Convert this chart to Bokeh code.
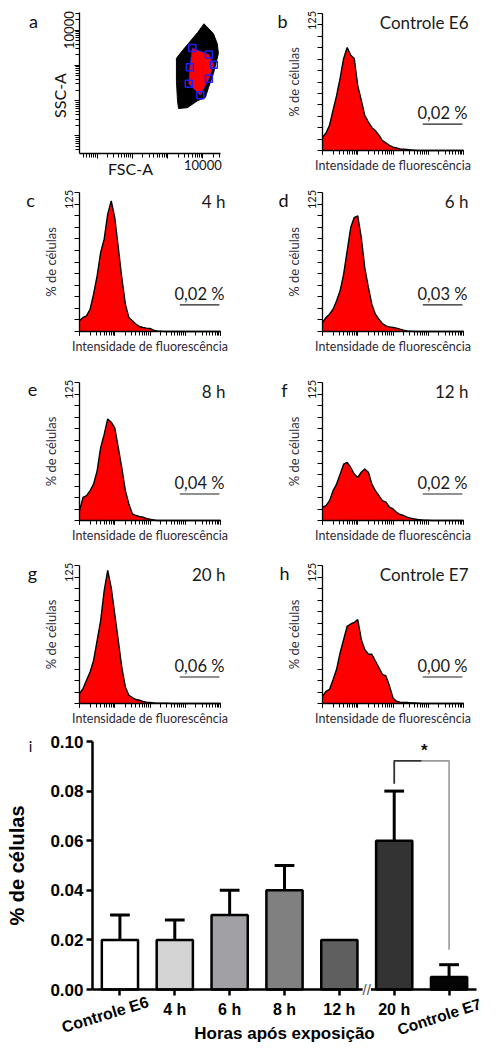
import math
from bokeh.plotting import figure
from bokeh.layouts import column, row
from bokeh.models import (Range1d, FixedTicker, LogTicker, Label,
                          CustomJSTickFormatter, NumeralTickFormatter)
from bokeh.embed import file_html
from bokeh.resources import INLINE

# ---------------- data ----------------
# panel a: FSC-A x SSC-A dot plot (outline of the event cloud and of the gate)
cloud_fsc = [10715, 19953, 25704, 27542, 19953, 14454, 11749, 7079, 3631, 2042,
             1905, 1778, 1778, 2630, 3890, 7079]
cloud_ssc = [15136, 7943, 4074, 2188, 589, 234, 123, 100, 63, 60,
             100, 372, 1585, 2630, 4169, 8511]
gate_fsc = [5012, 14791, 20417, 14791, 8511, 3981, 4266]
gate_ssc = [3090, 2042, 1047, 417, 141, 302, 891]

# panels b-h: fluorescence histograms (10 bins per decade)
hist_x = [1, 1.26, 1.58, 2.0, 2.51, 3.16, 3.98, 5.01, 6.31, 7.94,
          10, 12.6, 15.8, 20.0, 25.1, 31.6, 39.8, 50.1, 63.1, 79.4,
          100, 126, 158, 200, 251, 316, 398, 501, 631, 794,
          1000, 1259, 1585, 1995, 2512, 3162, 3981, 5012, 6310, 7943, 10000]
hist_b = [12, 16, 23, 37, 50, 66, 84, 94, 87, 84, 59, 46, 32, 26, 21, 18, 14, 9, 7,
          4.6, 3, 2.4, 1.5, 1.2, 0.9, 0.6, 0.3]
hist_c = [9.6, 12.6, 14, 20, 33.6, 50, 71, 83, 105.5, 117.5, 102.5, 75.5, 48.6, 24.6,
          12.6, 9.6, 6.6, 4.5, 3.6, 3, 2.7, 1.2, 0.6, 0.3]
hist_d = [8, 12.6, 15.6, 20, 27.6, 36.6, 51.6, 72.5, 93.5, 102.5, 104, 84.5, 57.5,
          39.6, 24.6, 15.6, 11, 7.2, 5, 4.2, 3.6, 3, 2.1, 1.2, 0.6, 0.3]
hist_e = [9, 21, 22.6, 27, 33, 45, 66, 78, 92, 89, 84, 66, 48, 27, 15, 6, 4.5, 3.6,
          3, 1.8, 1.2, 0.6]
hist_f = [12, 13.5, 18, 27, 33, 42, 51, 52.7, 48, 42, 39, 43.7, 46.7, 43.7, 33, 27,
          22.6, 18, 16.6, 12, 10.5, 7.5, 5.4, 4.5, 3, 2.1, 1.5, 0.9, 0.6, 0.3, 0.3]
hist_g = [9, 13.5, 21, 28.6, 39, 57, 75, 102, 120.5, 105, 81, 57, 33, 15, 7.5, 5.4,
          3.6, 3, 1.8, 1.2, 0.9, 0.6, 0.3, 0.3, 0.3, 0.3]
hist_h = [6.7, 11, 12.7, 21.8, 31, 46, 58, 70, 72, 73.4, 76, 58, 49, 44.6, 44.6, 38.5,
          32.5, 26.4, 25, 15.8, 5, 2, 1.2, 0.9, 0.9, 0.6, 0.6, 0.3]
panel_letters = ["b", "c", "d", "e", "f", "g", "h"]
panel_titles = ["Controle E6", "4 h", "6 h", "8 h", "12 h", "20 h", "Controle E7"]
panel_pcts = ["0,02 %", "0,02 %", "0,03 %", "0,04 %", "0,02 %", "0,06 %", "0,00 %"]
marker_lo, marker_hi, marker_level = 700, 9300, 24
hist_yticks = [125 * i / 12 for i in range(13)]

# panel i: bar chart
categories = ["Controle E6", "4 h", "6 h", "8 h", "12 h", "20 h", "Controle E7"]
pct_cells = [0.02, 0.02, 0.03, 0.04, 0.02, 0.06, 0.005]
sem = [0.01, 0.008, 0.01, 0.01, 0.0, 0.02, 0.005]
y_ticks = [0.0, 0.02, 0.04, 0.06, 0.08, 0.10]
bar_colors = ["#ffffff", "#d4d4d4", "#a1a1a5", "#808080", "#5f5f5f", "#333333", "#050505"]

FONT = "Lato"
BFONT = "Liberation Sans"


def lab(p, x, y, text, size, font=FONT, align="center", angle=0, bold=False, color="#111111", **kw):
    p.add_layout(Label(x=x, y=y, text=text, text_font=font, text_font_size=f"{size}px",
                       text_align=align, text_baseline="middle", angle=angle,
                       angle_units="deg", text_color=color,
                       text_font_style="bold" if bold else "normal", **kw))


def pad(v):
    return v + [0] * (len(hist_x) - len(v))


def make_fig(width, height, bl, br, bt, bb, xlo, xhi, ylo, yhi, xlog=False, ylog=False):
    """Figure whose frame fills the whole canvas; axes are pinned (fixed_location)
    so that the visible plot region is [xlo,xhi]x[ylo,yhi] inside the given borders."""
    fw = width - bl - br
    fh = height - bt - bb

    def ext(lo, hi, before, after, size, log):
        if log:
            d = math.log10(hi / lo) / size
            return lo * 10 ** (-before * d), hi * 10 ** (after * d)
        d = (hi - lo) / size
        return lo - before * d, hi + after * d

    xs_, xe_ = ext(xlo, xhi, bl, br, fw, xlog)
    ys_, ye_ = ext(ylo, yhi, bb, bt, fh, ylog)
    p = figure(width=width, height=height,
               x_axis_type="log" if xlog else "linear",
               y_axis_type="log" if ylog else "linear",
               x_range=Range1d(xs_, xe_), y_range=Range1d(ys_, ye_),
               output_backend="svg", toolbar_location=None,
               min_border_left=0, min_border_right=0, min_border_top=0, min_border_bottom=0)
    p.grid.visible = False
    p.outline_line_color = None
    p.background_fill_color = "white"
    p.border_fill_color = "white"
    p.xaxis.fixed_location = ylo
    p.xaxis.bounds = (xlo, xhi)
    p.yaxis.fixed_location = xlo
    p.yaxis.bounds = (ylo, yhi)

    def X(dx):
        if xlog:
            return xlo * 10 ** (dx * math.log10(xhi / xlo) / fw)
        return xlo + dx * (xhi - xlo) / fw

    def Y(dy):
        if ylog:
            return ylo * 10 ** (dy * math.log10(yhi / ylo) / fh)
        return ylo + dy * (yhi - ylo) / fh

    return p, X, Y, fw, fh


# ---------------- panel a ----------------
def dot_panel():
    p, X, Y, fw, fh = make_fig(241, 180, 79, 21, 12, 27, 10 ** 0.5, 10 ** 4.5,
                               10 ** 0.5, 10 ** 4.5, xlog=True, ylog=True)
    p.patch(cloud_fsc, cloud_ssc, fill_color="black", line_color="black", line_width=1)
    p.patch(gate_fsc, gate_ssc, fill_color="#ff0000", line_color="#2222ff", line_width=0.8)
    p.scatter(gate_fsc, gate_ssc, marker="square", size=7, fill_color=None,
              line_color="#2020ff", line_width=1.5)
    fmt = CustomJSTickFormatter(code="return Math.abs(Math.log10(tick) - 4) < 0.01 ? '10000' : '';")
    for ax in (p.xaxis[0], p.yaxis[0]):
        ax.ticker = LogTicker(desired_num_ticks=5, num_minor_ticks=10)
        ax.formatter = fmt
        ax.major_tick_in = 0
        ax.minor_tick_in = 0
        ax.major_tick_out = 5
        ax.minor_tick_out = 4
        ax.axis_line_width = 1.3
        ax.major_label_text_font = FONT
        ax.major_label_text_font_size = "13px"
        ax.major_label_text_color = "#111111"
        ax.major_label_standoff = 1
    p.yaxis[0].major_label_orientation = "vertical"
    lab(p, X(-46), Y(133), "a", 18)
    lab(p, X(-20), Y(58), "SSC-A", 16, angle=90)
    lab(p, X(51), Y(-15), "FSC-A", 16)
    return p


# ---------------- panels b-h ----------------
def hist_panel(vals, letter, title, pct_txt, width, bl, bt, fh, bb, letter_dx):
    fw = 141
    br = width - bl - fw
    p, X, Y, fw, fh = make_fig(width, bt + fh + bb, bl, br, bt, bb, 1, 10000, 0, 125,
                               xlog=True)
    y = pad(vals)
    p.varea(x=hist_x, y1=[0] * len(hist_x), y2=y, fill_color="#ff0000")
    p.line(x=hist_x, y=y, line_color="black", line_width=1.4)
    p.segment(x0=[marker_lo], y0=[marker_level], x1=[marker_hi], y1=[marker_level],
              line_color="#222222", line_width=1.2)

    xa = p.xaxis[0]
    xa.ticker = LogTicker(desired_num_ticks=5, num_minor_ticks=10)
    xa.formatter = CustomJSTickFormatter(code="return '';")
    xa.major_label_text_font_size = "0px"
    xa.major_label_standoff = 0
    xa.major_tick_in = 0
    xa.minor_tick_in = 0
    xa.major_tick_out = 4
    xa.minor_tick_out = 4
    xa.axis_label = "Intensidade de fluorescência"
    xa.axis_label_text_font = FONT
    xa.axis_label_text_font_size = "12.5px"
    xa.axis_label_text_font_style = "normal"
    xa.axis_label_text_color = "#2e2a3a"
    xa.axis_label_standoff = 3

    ya = p.yaxis[0]
    ya.ticker = FixedTicker(ticks=hist_yticks, minor_ticks=[])
    ya.formatter = CustomJSTickFormatter(code="return '';")
    ya.major_label_text_font_size = "0px"
    ya.major_label_standoff = 0
    ya.major_tick_in = 0
    ya.major_tick_out = 5
    ya.axis_label = "% de células"
    ya.axis_label_text_font = FONT
    ya.axis_label_text_font_size = "13px"
    ya.axis_label_text_font_style = "normal"
    ya.axis_label_text_color = "#2e2a3a"
    ya.axis_label_standoff = 16
    for ax in (xa, ya):
        ax.axis_line_width = 1.3

    lab(p, X(letter_dx), Y(fh - 7), letter, 18)
    lab(p, X(-11), Y(fh - 7), "125", 11, angle=90)
    lab(p, X(146), Y(fh - 9), title, 17, align="right", color="#1a1a1a")
    lab(p, X(120), Y(38), pct_txt, 16.5, color="#1a1a1a")
    return p


hists = [hist_b, hist_c, hist_d, hist_e, hist_f, hist_g, hist_h]
# (width, border_left, border_top, frame_height, border_bottom, letter_dx)
geo = [
    (242, 81, 13, 137, 30, -40),  # b
    (241, 79, 12, 139, 29, -49),  # c
    (242, 81, 12, 139, 29, -39),  # d
    (241, 79, 22, 138, 25, -47),  # e
    (242, 81, 22, 138, 25, -38),  # f
    (241, 79, 20, 138, 24, -47),  # g
    (242, 81, 20, 138, 24, -38),  # h
]
hp = [hist_panel(hists[i], panel_letters[i], panel_titles[i], panel_pcts[i], *geo[i])
      for i in range(7)]

# ---------------- panel i ----------------
n = len(categories)
xs = list(range(n))
pi_, XI, YI, fwi, fhi = make_fig(483, 315, 92, 7, 14, 53, -0.5, n - 0.5, 0.0, 0.1)

ex = [x for x, e in zip(xs, sem) if e > 0]
ey0 = [v for v, e in zip(pct_cells, sem) if e > 0]
ey1 = [v + e for v, e in zip(pct_cells, sem) if e > 0]
pi_.segment(x0=ex, y0=ey0, x1=ex, y1=ey1, line_color="black", line_width=3)
pi_.segment(x0=[x - 0.18 for x in ex], y0=ey1, x1=[x + 0.18 for x in ex], y1=ey1,
            line_color="black", line_width=3)
pi_.vbar(x=xs, top=pct_cells, width=0.66, bottom=0, fill_color=bar_colors,
         line_color="black", line_width=2.5)

# significance bracket 20 h vs Controle E7
i1, i2 = 5, 6
top_y = 0.0922
l_bot = pct_cells[i1] + sem[i1] + 0.003
r_bot = pct_cells[i2] + sem[i2] + 0.006
pi_.line(x=[i1 + 0.5, i2, i2], y=[top_y, top_y, r_bot], line_color="#9a9a9a", line_width=1.6)
pi_.line(x=[i1, i1, i1 + 0.5], y=[l_bot, top_y, top_y], line_color="#333333", line_width=1.8)
lab(pi_, (i1 + i2) / 2 + 0.05, 0.0962, "*", 17, font=BFONT, bold=True)

ya = pi_.yaxis[0]
ya.ticker = FixedTicker(ticks=y_ticks, minor_ticks=[])
ya.formatter = NumeralTickFormatter(format="0.00")
ya.axis_label = "% de células"
ya.axis_label_standoff = 19
xa = pi_.xaxis[0]
xa.ticker = FixedTicker(ticks=xs, minor_ticks=[])
xa.major_label_overrides = {x: ("" if c.startswith("Controle") else c) for x, c in zip(xs, categories)}
xa.axis_label = "Horas após exposição"
xa.axis_label_standoff = 3
xa.major_label_standoff = 5
for ax in (xa, ya):
    ax.axis_line_width = 2.5
    ax.major_tick_line_width = 2.5
    ax.major_tick_in = 0
    ax.major_tick_out = 6
    ax.major_label_text_font = BFONT
    ax.major_label_text_font_style = "bold"
    ax.major_label_text_font_size = "16px"
    ax.major_label_text_color = "black"
    ax.axis_label_text_font = BFONT
    ax.axis_label_text_font_style = "bold"
    ax.axis_label_text_color = "black"
xa.axis_label_text_font_size = "17px"
ya.axis_label_text_font_size = "20px"
ya.major_label_text_font_size = "17px"
ya.major_label_standoff = 3

# rotated control labels
lab(pi_, -0.27, -0.0101, categories[0], 16, font=BFONT, bold=True, angle=17, color="black")
lab(pi_, 5.82, -0.0109, categories[6], 15.5, font=BFONT, bold=True, angle=18, color="black")
# axis break
lab(pi_, 4.5, 0.0, "//", 15, font=BFONT, color="#555555", background_fill_color="white")
# panel letter
lab(pi_, XI(30 - 92), YI(fhi - 4), "i", 15, font=FONT)

layout = column(
    row(dot_panel(), hp[0]),
    row(hp[1], hp[2]),
    row(hp[3], hp[4]),
    row(hp[5], hp[6]),
    pi_,
)

open("out.html", "w").write(file_html(layout, INLINE))
